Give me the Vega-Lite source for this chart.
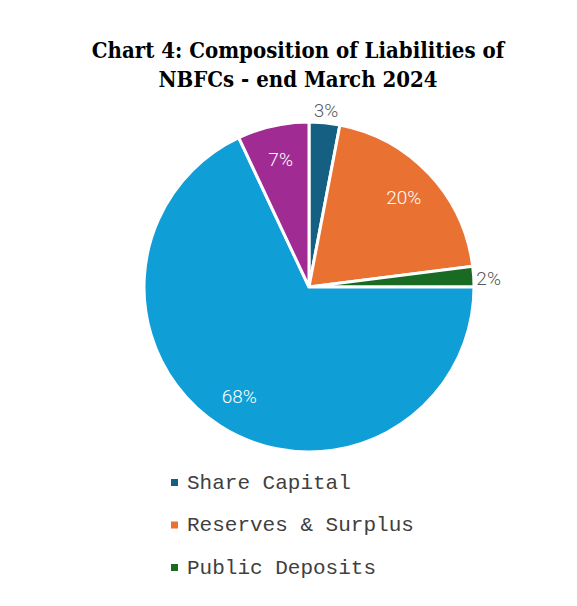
{
  "$schema": "https://vega.github.io/schema/vega-lite/v6.json",
  "autosize": "none",
  "width": 536,
  "height": 374,
  "padding": {"left": 41, "top": 100, "right": 0, "bottom": 132},
  "background": "white",
  "config": {"view": {"stroke": null}},
  "title": {
    "text": ["Chart 4: Composition of Liabilities of", "NBFCs - end March 2024"],
    "font": "DejaVu Serif Condensed",
    "fontWeight": "bold",
    "fontSize": 22,
    "lineHeight": 29,
    "color": "#000000",
    "anchor": "middle",
    "dx": -11,
    "offset": 8
  },
  "data": {
    "values": [
      {"category": "Share Capital", "share": 3, "idx": 1, "label": "3%"},
      {"category": "Reserves & Surplus", "share": 20, "idx": 2, "label": "20%"},
      {"category": "Public Deposits", "share": 2, "idx": 3, "label": "2%"},
      {"category": "Borrowings", "share": 68, "idx": 4, "label": "68%"},
      {"category": "Current Liabilities & Provisions", "share": 7, "idx": 5, "label": "7%"}
    ]
  },
  "encoding": {
    "theta": {"field": "share", "type": "quantitative", "stack": true},
    "order": {"field": "idx", "type": "quantitative"}
  },
  "layer": [
    {
      "mark": {"type": "arc", "outerRadius": 165, "stroke": "white", "strokeWidth": 3},
      "encoding": {
        "color": {
          "field": "category",
          "type": "nominal",
          "scale": {
            "domain": ["Share Capital", "Reserves & Surplus", "Public Deposits", "Borrowings", "Current Liabilities & Provisions"],
            "range": ["#156082", "#E97132", "#196B24", "#0F9ED5", "#A02B93"]
          },
          "legend": {
            "orient": "none",
            "legendX": 123,
            "legendY": 372,
            "title": null,
            "padding": 0,
            "values": ["Share Capital", "Reserves & Surplus", "Public Deposits"],
            "symbolType": "square",
            "symbolSize": 49,
            "symbolStrokeWidth": 0,
            "labelFont": "Liberation Mono",
            "labelFontSize": 21,
            "labelColor": "#404040",
            "labelOffset": 2,
            "rowPadding": 20.5,
            "labelLimit": 500
          }
        }
      }
    },
    {
      "mark": {"type": "text", "radius": 130, "font": "Roboto", "fontWeight": 300, "fontSize": 19, "color": "white"},
      "encoding": {
        "text": {"condition": {"test": "datum.share >= 5", "field": "label"}, "value": ""}
      }
    },
    {
      "mark": {"type": "text", "radius": 180, "font": "Roboto", "fontWeight": 300, "fontSize": 19, "color": "#595959", "dy": 3},
      "encoding": {
        "text": {"condition": {"test": "datum.share < 5", "field": "label"}, "value": ""}
      }
    }
  ]
}
